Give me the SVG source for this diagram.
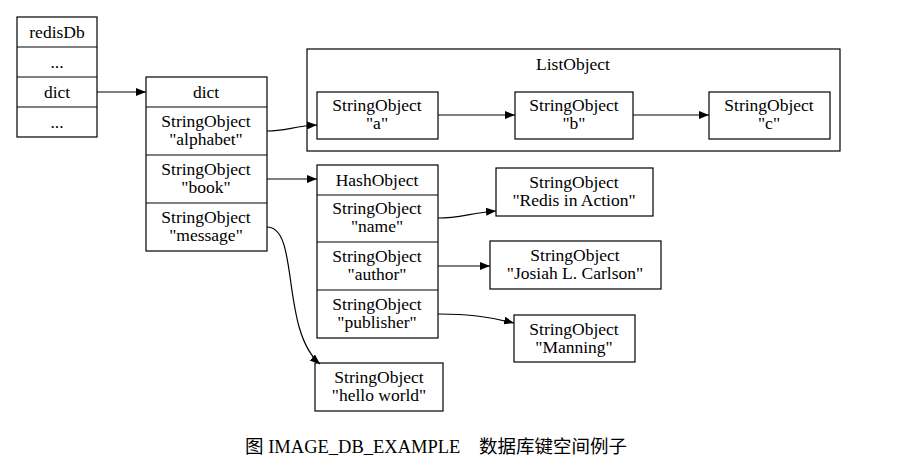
<svg xmlns="http://www.w3.org/2000/svg" width="915" height="471" viewBox="0 0 915 471">
<style>
rect{fill:#fff;stroke:#000;stroke-width:1.2}
line.s{stroke:#000;stroke-width:1.2}
text{font-family:"Liberation Serif",serif;font-size:17.5px;text-anchor:middle;fill:#000}
.e{fill:none;stroke:#000;stroke-width:1.2}
</style>
<defs><marker id="a" markerWidth="10" markerHeight="8" refX="10" refY="4" orient="auto" markerUnits="userSpaceOnUse"><path d="M0,0L10,4L0,8z"/></marker></defs>
<rect x="0" y="0" width="915" height="471" style="stroke:none"/>
<g id="cluster_list"><rect x="307" y="49" width="533" height="102"/><text x="573" y="70">ListObject</text></g>
<g id="redisDb"><rect x="17" y="17" width="80" height="120"/>
<line class="s" x1="17" y1="47" x2="97" y2="47"/><line class="s" x1="17" y1="77" x2="97" y2="77"/><line class="s" x1="17" y1="107" x2="97" y2="107"/>
<text x="57" y="38">redisDb</text><text x="57" y="68">...</text><text x="57" y="98">dict</text><text x="57" y="128">...</text></g>
<g id="dict"><rect x="146" y="77" width="121" height="174"/>
<line class="s" x1="146" y1="107" x2="267" y2="107"/><line class="s" x1="146" y1="155" x2="267" y2="155"/><line class="s" x1="146" y1="203" x2="267" y2="203"/>
<text x="206" y="98">dict</text><text x="206" y="127">StringObject</text><text x="206" y="145">"alphabet"</text>
<text x="206" y="175">StringObject</text><text x="206" y="193">"book"</text>
<text x="206" y="223">StringObject</text><text x="206" y="241">"message"</text></g>
<g id="sa"><rect x="317" y="92" width="121" height="47"/><text x="377" y="111">StringObject</text><text x="377" y="129">"a"</text></g>
<g id="sb"><rect x="515" y="92" width="118" height="47"/><text x="574" y="111">StringObject</text><text x="574" y="129">"b"</text></g>
<g id="sc"><rect x="709" y="92" width="121" height="47"/><text x="769" y="111">StringObject</text><text x="769" y="129">"c"</text></g>
<g id="hash"><rect x="317" y="165" width="121" height="173"/>
<line class="s" x1="317" y1="195" x2="438" y2="195"/><line class="s" x1="317" y1="242" x2="438" y2="242"/><line class="s" x1="317" y1="290" x2="438" y2="290"/>
<text x="377" y="186">HashObject</text><text x="377" y="214">StringObject</text><text x="377" y="232">"name"</text>
<text x="377" y="262">StringObject</text><text x="377" y="280">"author"</text>
<text x="377" y="310">StringObject</text><text x="377" y="328">"publisher"</text></g>
<g id="ria"><rect x="496" y="168" width="157" height="48"/><text x="574" y="188">StringObject</text><text x="574" y="206">"Redis in Action"</text></g>
<g id="jlc"><rect x="490" y="241" width="171" height="48"/><text x="575" y="261">StringObject</text><text x="575" y="279">"Josiah L. Carlson"</text></g>
<g id="man"><rect x="514" y="315" width="121" height="47"/><text x="574" y="335">StringObject</text><text x="574" y="353">"Manning"</text></g>
<g id="hw"><rect x="315" y="363" width="128" height="48"/><text x="379" y="383">StringObject</text><text x="379" y="401">"hello world"</text></g>
<g id="edges">
<path class="e" marker-end="url(#a)" d="M97,92L146,92"/>
<path class="e" marker-end="url(#a)" d="M267,131C285,131 295,126 317,125"/>
<path class="e" marker-end="url(#a)" d="M267,179L317,179"/>
<path class="e" marker-end="url(#a)" d="M267,227C300,227 280,330 320,364"/>
<path class="e" marker-end="url(#a)" d="M438,115L515,115"/>
<path class="e" marker-end="url(#a)" d="M633,115L709,115"/>
<path class="e" marker-end="url(#a)" d="M438,218C460,218 470,213 496,211"/>
<path class="e" marker-end="url(#a)" d="M438,266L490,266"/>
<path class="e" marker-end="url(#a)" d="M438,314C470,314 490,317 514,323"/>
</g>
<text x="436" y="453" style="font-family:'Liberation Serif','Noto Sans CJK SC',serif;font-size:18.5px">图 IMAGE_DB_EXAMPLE　数据库键空间例子</text>
</svg>
